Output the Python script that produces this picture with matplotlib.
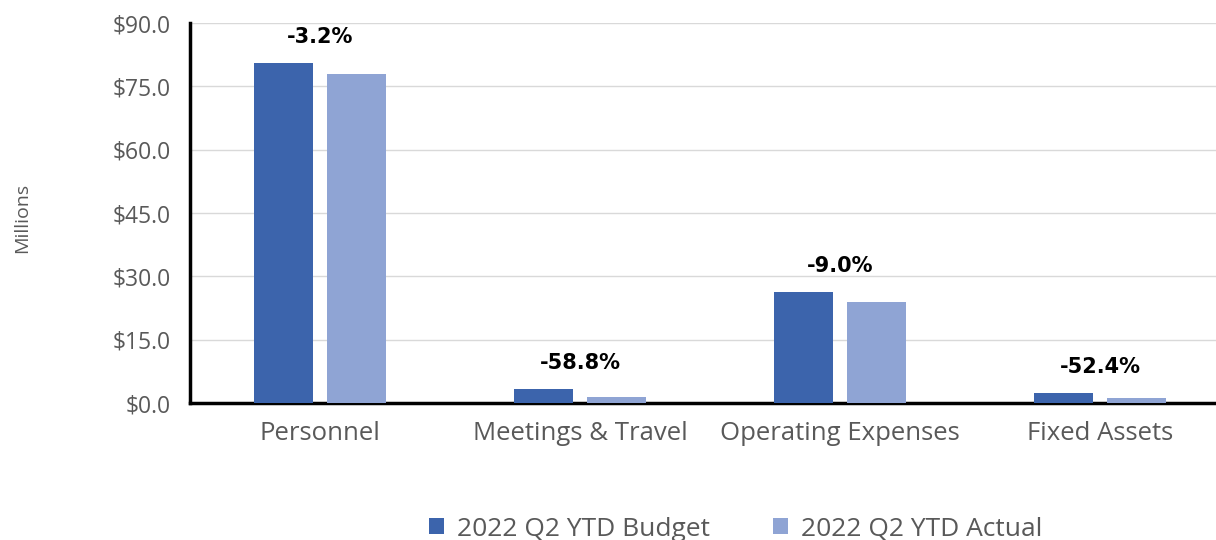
import numpy as np
from matplotlib import pyplot as plt

categories = ['Personnel', 'Meetings & Travel', 'Operating Expenses', 'Fixed Assets']
budget = [80.5, 3.3, 26.3, 2.3]
actual = [78.0, 1.36, 23.9, 1.1]
pct_labels = ['-3.2%', '-58.8%', '-9.0%', '-52.4%']
yticks = [0, 15, 30, 45, 60, 75, 90]

plt.rcParams['font.family'] = ['Open Sans', 'DejaVu Sans']

fig = plt.figure(figsize=(12.16, 5.4), dpi=100)
ax = fig.add_axes([190/1216, 1 - 403/540, 1040/1216, 380/540])

x = np.arange(len(categories))
w = 0.227
off = 0.142
ax.bar(x - off, budget, w, color='#3C64AC', label='2022 Q2 YTD Budget', zorder=3)
ax.bar(x + off, actual, w, color='#8FA4D4', label='2022 Q2 YTD Actual', zorder=3)

for i, lab in enumerate(pct_labels):
    top = max(budget[i], actual[i])
    ax.annotate(lab, (x[i], top), xytext=(0, 19), textcoords='offset points',
                ha='center', va='center', fontsize=15, fontweight='bold', color='black',
                family=['DejaVu Sans'])

ax.set_xlim(-0.5, 3.5)
ax.set_ylim(0, 90)
ax.set_yticks(yticks)
ax.set_yticklabels(['${:.1f}'.format(v) for v in yticks])
ax.set_xticks(x)
ax.set_xticklabels(categories)
ax.tick_params(axis='y', length=0, labelsize=16.5, colors='#595959', pad=14)
ax.tick_params(axis='x', length=0, labelsize=18.5, colors='#595959', pad=13)
ax.grid(axis='y', color='#D9D9D9', linewidth=1, zorder=0)

for s in ['top', 'right']:
    ax.spines[s].set_visible(False)
ax.spines['left'].set_linewidth(2.5)
ax.spines['bottom'].set_linewidth(2.5)
ax.spines['left'].set_color('black')
ax.spines['bottom'].set_color('black')

fig.text(22/1216, 1 - 218/540, 'Millions', rotation=90, ha='center', va='center',
         fontsize=14, color='#595959')

fig.legend(loc='center', bbox_to_anchor=(736/1216, 1 - 529/540), ncol=2, frameon=False,
           fontsize=19, labelcolor='#595959', handlelength=0.55, handleheight=0.55,
           handletextpad=0.5, columnspacing=2.4)

fig.savefig('out.png', dpi=100)
